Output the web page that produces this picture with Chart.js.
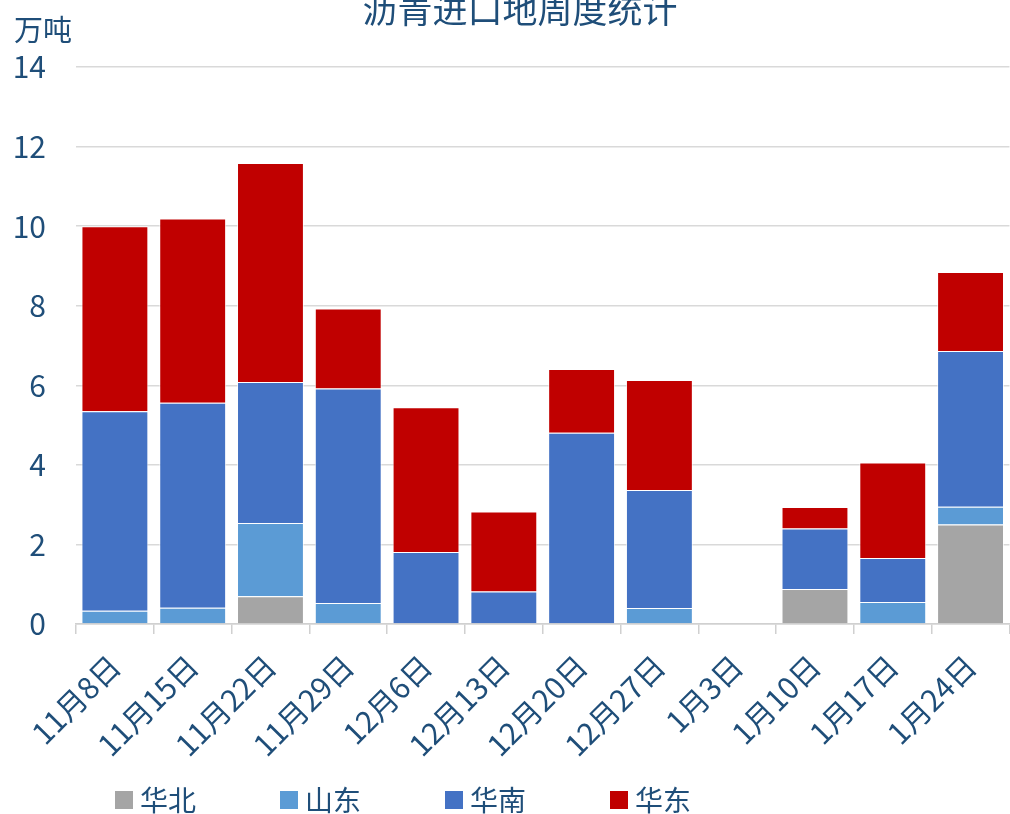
<!DOCTYPE html>
<html>
<head>
<meta charset="utf-8">
<script src="https://cdn.jsdelivr.net/npm/chart.js@4/dist/chart.umd.min.js"></script>
<style>
  html, body { margin: 0; padding: 0; background: #ffffff; }
  #wrap { width: 1010px; height: 814px; }
</style>
</head>
<body>
<div id="wrap"><canvas id="c" width="1010" height="814"></canvas></div>
<script>
// Weekly asphalt imports by region (万吨)
const categories = ['11月8日', '11月15日', '11月22日', '11月29日', '12月6日', '12月13日',
                    '12月20日', '12月27日', '1月3日', '1月10日', '1月17日', '1月24日'];
const huabei   = [0,    0,    0.70, 0,    0,    0,    0,    0,    null, 0.88, 0,    2.50];
const shandong = [0.33, 0.41, 1.84, 0.53, 0,    0,    0,    0.40, null, 0,    0.55, 0.45];
const huanan   = [5.02, 5.15, 3.54, 5.39, 1.81, 0.82, 4.81, 2.97, null, 1.52, 1.11, 3.91];
const huadong  = [4.65, 4.63, 5.51, 2.01, 3.64, 2.01, 1.60, 2.76, null, 0.54, 2.40, 1.99];
const seriesNames = ['华北', '山东', '华南', '华东'];
const yTicks = [0, 2, 4, 6, 8, 10, 12, 14];

const chartTitle = '沥青进口地周度统计';
const unitLabel = '万吨';

const TEXT = '#1F4E79';
const FONT = "'Noto Sans CJK SC', 'Noto Sans', sans-serif";
const colors = ['#A5A5A5', '#5B9BD5', '#4472C4', '#C00000'];

// Title and unit caption drawn on the canvas
const headerPlugin = {
  id: 'header',
  afterDraw(chart) {
    const ctx = chart.ctx;
    ctx.save();
    ctx.fillStyle = TEXT;
    ctx.textBaseline = 'middle';
    ctx.font = `35px ${FONT}`;
    ctx.textAlign = 'center';
    ctx.fillText(chartTitle, 520, 10);
    ctx.font = `29px ${FONT}`;
    ctx.textAlign = 'left';
    ctx.fillText(unitLabel, 14, 30);
    ctx.restore();
  }
};

// Legend row along the bottom edge
const legendRow = {
  id: 'legendRow',
  afterDraw(chart) {
    const ctx = chart.ctx;
    ctx.save();
    ctx.font = `28px ${FONT}`;
    ctx.textBaseline = 'middle';
    ctx.textAlign = 'left';
    chart.data.datasets.forEach((ds, i) => {
      const x = 115 + i * 165;
      const y = 800;
      ctx.fillStyle = ds.backgroundColor;
      ctx.fillRect(x, y - 9, 18, 18);
      ctx.fillStyle = TEXT;
      ctx.fillText(ds.label, x + 25, y);
    });
    ctx.restore();
  }
};

const seriesData = [huabei, shandong, huanan, huadong];

new Chart(document.getElementById('c'), {
  type: 'bar',
  data: {
    labels: categories,
    datasets: seriesNames.map((name, i) => ({
      label: name,
      data: seriesData[i],
      backgroundColor: colors[i],
      borderColor: 'rgba(255,255,255,0.7)',
      borderWidth: 1,
      barPercentage: 0.86,
      categoryPercentage: 1.0
    }))
  },
  options: {
    responsive: false,
    devicePixelRatio: 1,
    animation: false,
    layout: { padding: { top: 67, right: -4, bottom: 0, left: 0 } },
    plugins: {
      legend: { display: false },
      title: { display: false },
      tooltip: { enabled: false }
    },
    scales: {
      x: {
        stacked: true,
        offset: true,
        grid: {
          offset: true,
          drawOnChartArea: false,
          drawTicks: true,
          tickLength: 10,
          color: '#D0D0D0',
          lineWidth: 1.5
        },
        border: { display: true, color: '#D0D0D0', width: 1.5 },
        ticks: {
          autoSkip: false,
          minRotation: 45,
          maxRotation: 45,
          padding: 14,
          color: TEXT,
          font: { family: FONT, size: 30 }
        },
        afterFit(scale) { scale.height = 190; }
      },
      y: {
        stacked: true,
        min: 0,
        max: 14,
        afterBuildTicks(scale) { scale.ticks = yTicks.map(v => ({ value: v })); },
        grid: { color: '#D9D9D9', lineWidth: 1.5, drawTicks: false },
        border: { display: false },
        ticks: {
          padding: 30,
          color: TEXT,
          font: { family: FONT, size: 30 }
        },
        afterFit(scale) { scale.width = 76; }
      }
    }
  },
  plugins: [headerPlugin, legendRow]
});
</script>
</body>
</html>
